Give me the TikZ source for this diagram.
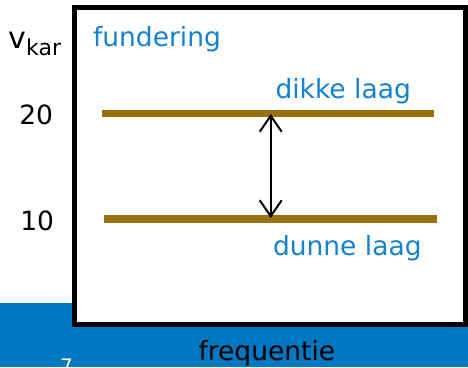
\documentclass[tikz,border=0pt]{standalone}
\usepackage{fontspec}
\setmainfont{DejaVu Sans}
\usetikzlibrary{arrows.meta}
\definecolor{band}{RGB}{0,120,193}
\definecolor{tblue}{RGB}{20,130,205}
\definecolor{gold}{RGB}{152,112,12}
\tikzset{
  lbl/.style={inner sep=0pt, outer sep=0pt, font=\fontsize{26.5}{30}\selectfont},
  bluelbl/.style={lbl, text=tblue},
  layer/.style={draw=gold, line width=7.5pt},
}
\begin{document}
\begin{tikzpicture}[x=1pt,y=-1pt]
\useasboundingbox (0,0) rectangle (468,367);
\fill[band] (0,303) rectangle (468,367);
\draw[line width=5pt, fill=white] (74.5,7.5) rectangle (465,324.5);
\coordinate (t1) at (102,113.5);
\coordinate (t2) at (434,113.5);
\coordinate (b1) at (104,219);
\coordinate (b2) at (437,219);
\draw[layer] (t1) -- (t2);
\draw[layer] (b1) -- (b2);
\coordinate (at) at (270.7,114);
\coordinate (ab) at (270.7,218);
\draw[line width=2pt, {Straight Barb[length=16pt,width=22pt]}-{Straight Barb[length=16pt,width=22pt]}] (at) -- (ab);
\node[inner sep=0pt, anchor=base west, font=\fontsize{30}{34}\selectfont] (v) at (8,48.5) {v};
\node[inner sep=0pt, anchor=base west, font=\fontsize{22}{26}\selectfont] (kar) at (26,55) {kar};
\node[bluelbl, anchor=base west] (fund) at (93,46) {fundering};
\node[bluelbl, anchor=base west] (dik) at (275.5,98) {dikke laag};
\node[bluelbl, anchor=base west] (dun) at (273,255) {dunne laag};
\node[lbl, anchor=base east] (n20) at (53,124) {20};
\node[lbl, anchor=base east] (n10) at (54,230.5) {10};
\node[lbl, anchor=base west] (freq) at (198.5,360) {frequentie};
\node[inner sep=0pt, anchor=base west, text=white, font=\fontsize{20}{24}\selectfont] (pg) at (60,373) {7};
\end{tikzpicture}
\end{document}
